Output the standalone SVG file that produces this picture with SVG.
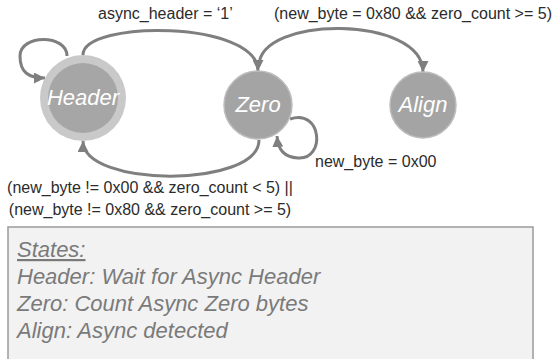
<svg xmlns="http://www.w3.org/2000/svg" width="555" height="359" viewBox="0 0 555 359">
<style>
.edge{fill:none;stroke:#7f7f7f;stroke-width:3}
.lbl{font-family:"Liberation Sans",Arial,sans-serif;font-size:16px;fill:#2b2b2b}
.node-text{font-family:"Liberation Sans",Arial,sans-serif;font-size:22px;font-style:italic;fill:#ffffff;text-anchor:middle}
.state{fill:#a4a4a4;stroke:#bdbdbd;stroke-width:1.5}
.legend{font-family:"Liberation Sans",Arial,sans-serif;font-size:22px;font-style:italic;fill:#7a7a7a}
</style>
<defs>
<marker id="arrow" viewBox="0 0 10 10" refX="10" refY="5" markerWidth="11" markerHeight="11" markerUnits="userSpaceOnUse" orient="auto">
<path d="M0,0 L10,5 L0,10 z" fill="#7f7f7f"/>
</marker>
</defs>
<rect x="0" y="0" width="555" height="359" fill="#ffffff"/>

<g id="legend">
<rect x="8" y="227" width="525" height="145" fill="#f2f2f2" stroke="#9a9a9a" stroke-width="1.5"/>
<text class="legend" x="17" y="257" text-decoration="underline">States:</text>
<text class="legend" x="17" y="284">Header: Wait for Async Header</text>
<text class="legend" x="17" y="311">Zero: Count Async Zero bytes</text>
<text class="legend" x="17" y="338">Align: Async detected</text>
</g>

<g id="connectors">
<path class="edge" d="M67 56 C67 34, 20 34, 20 56 C20 72, 28 78, 45 78" marker-end="url(#arrow)"/>
<path class="edge" d="M83 55 C83 20, 258 20, 258 71" marker-end="url(#arrow)"/>
<path class="edge" d="M259 66 C259 15, 423 15, 423 72" marker-end="url(#arrow)"/>
<path class="edge" d="M290 119 C322 108, 326 160, 298 158 C284 157, 278 150, 277 136" marker-end="url(#arrow)"/>
<path class="edge" d="M259 140 C259 188, 83 188, 83 141" marker-end="url(#arrow)"/>
<text class="lbl" x="98" y="19">async_header = ‘1’</text>
<text class="lbl" x="274" y="19">(new_byte = 0x80 &amp;&amp; zero_count &gt;= 5)</text>
<text class="lbl" x="315" y="167">new_byte = 0x00</text>
<text class="lbl" x="150" y="193" text-anchor="middle">(new_byte != 0x00 &amp;&amp; zero_count &lt; 5) ||</text>
<text class="lbl" x="150" y="215" text-anchor="middle">(new_byte != 0x80 &amp;&amp; zero_count &gt;= 5)</text>
</g>

<g id="node-header">
<circle cx="83" cy="98" r="43" fill="#c9c9c9"/>
<circle cx="83" cy="98" r="35" fill="#a6a6a6"/>
<text class="node-text" x="83" y="105">Header</text>
</g>

<g id="node-zero">
<circle class="state" cx="258" cy="105" r="34"/>
<text class="node-text" x="258" y="112">Zero</text>
</g>

<g id="node-align">
<circle class="state" cx="423" cy="105" r="33"/>
<text class="node-text" x="423" y="112">Align</text>
</g>
</svg>
